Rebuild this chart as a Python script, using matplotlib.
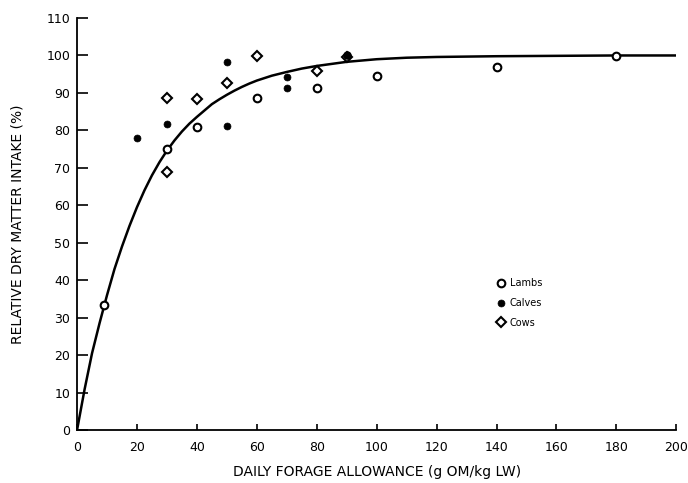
import matplotlib
matplotlib.use("Agg")
import matplotlib.pyplot as plt

# Data
lambs_x = [9, 30, 40, 60, 80, 100, 140, 180]
lambs_y = [33.5, 75.0, 81.0, 88.6, 91.4, 94.6, 97.0, 99.9]

calves_x = [20, 30, 50, 50, 70, 70, 90]
calves_y = [78.0, 81.8, 98.2, 81.1, 94.2, 91.2, 100.0]

cows_x = [30, 30, 40, 50, 60, 80, 90]
cows_y = [88.6, 69.0, 88.4, 92.6, 99.9, 95.9, 99.5]

curve_x = [0, 2.5, 5, 7.5, 10, 12.5, 15, 17.5, 20, 22.5, 25, 27.5, 30, 32.5, 35, 37.5,
           40, 42.5, 45, 47.5, 50, 52.5, 55, 57.5, 60, 65, 70, 75, 80, 90, 100, 110,
           120, 140, 160, 180, 200]
curve_y = [0, 10.8, 20.5, 28.5, 36.0, 43.0, 49.0, 54.5, 59.5, 64.0, 68.0, 71.5, 74.6,
           77.3, 79.7, 81.8, 83.6, 85.3, 87.0, 88.3, 89.5, 90.6, 91.6, 92.5, 93.3, 94.6,
           95.6, 96.5, 97.2, 98.3, 99.0, 99.4, 99.6, 99.8, 99.9, 100.0, 100.0]

x_ticks = [0, 20, 40, 60, 80, 100, 120, 140, 160, 180, 200]
y_ticks = [0, 10, 20, 30, 40, 50, 60, 70, 80, 90, 100, 110]

plt.rcParams['font.family'] = ['DejaVu Sans']

fig = plt.figure(figsize=(6.88, 4.83), dpi=100)
ax = fig.add_axes([0.112, 0.1097, 0.871, 0.853])

ax.plot(curve_x, curve_y, color='black', lw=1.8, zorder=2, solid_capstyle='butt',
        solid_joinstyle='round')

ax.plot(lambs_x, lambs_y, linestyle='none', marker='o', ms=5.5, mfc='white',
        mec='black', mew=1.5, zorder=3, label='Lambs')
ax.plot(calves_x, calves_y, linestyle='none', marker='o', ms=5, mfc='black',
        mec='black', mew=0.5, zorder=4, label='Calves')
ax.plot(cows_x, cows_y, linestyle='none', marker='D', ms=5.5, mfc='white',
        mec='black', mew=1.5, zorder=3, label='Cows')
# calves point drawn over the cows point at 90
ax.plot([90], [100.0], linestyle='none', marker='o', ms=5, mfc='black', mec='black', zorder=5)

ax.set_xlim(0, 200)
ax.set_ylim(0, 110)
ax.set_xticks(x_ticks)
ax.set_yticks(y_ticks)

for s in ['top', 'right']:
    ax.spines[s].set_visible(False)
for s in ['left', 'bottom']:
    ax.spines[s].set_linewidth(1.3)

ax.tick_params(axis='y', direction='in', length=8, width=1.2, labelsize=9, pad=5)
ax.tick_params(axis='x', direction='in', length=4.5, width=1.2, labelsize=9, pad=8)

ax.set_xlabel('DAILY FORAGE ALLOWANCE (g OM/kg LW)', fontsize=10, labelpad=8)
ax.set_ylabel('RELATIVE DRY MATTER INTAKE (%)', fontsize=10, labelpad=16)

ax.legend(loc='upper left', bbox_to_anchor=(0.693, 0.38), frameon=False,
          fontsize=7, handlelength=0.8, handletextpad=0.5, labelspacing=1.0,
          borderpad=0)

fig.savefig('out.png', dpi=100)
